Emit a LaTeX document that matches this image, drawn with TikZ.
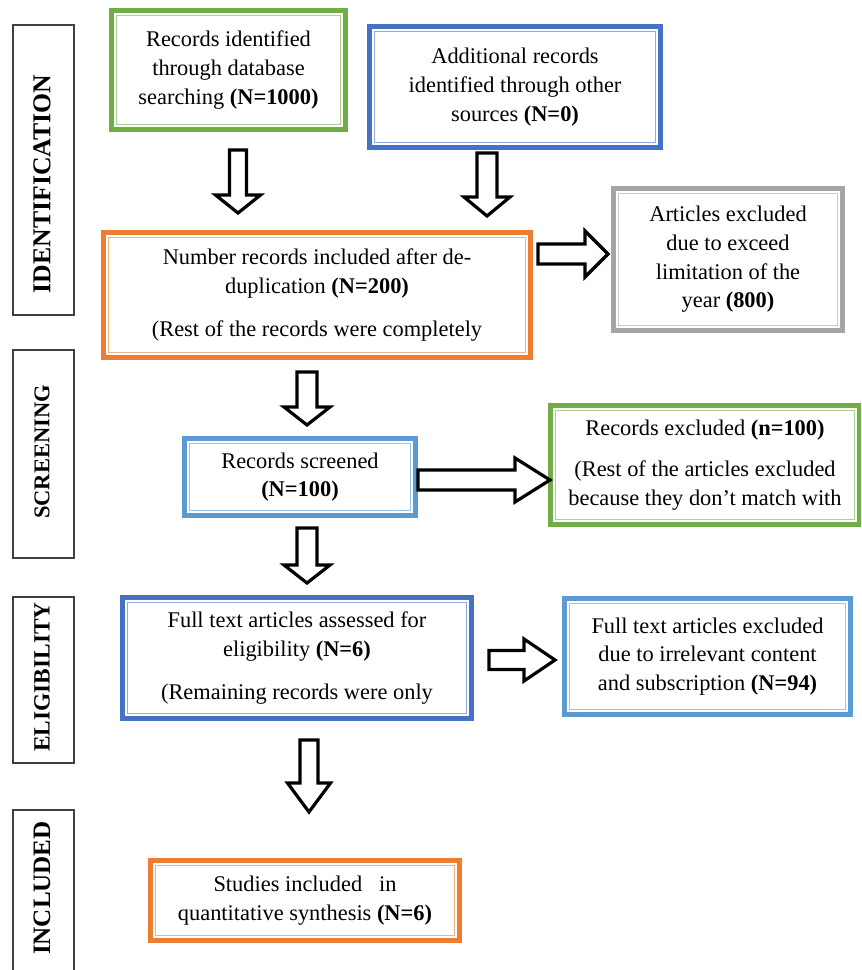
\documentclass[tikz,border=0pt]{standalone}
\usepackage{fontspec}
\setmainfont{Liberation Serif}
\usetikzlibrary{fit}
\definecolor{cgreen}{HTML}{70AD47}
\definecolor{cgreenL}{HTML}{A9D18E}
\definecolor{cblue}{HTML}{4472C4}
\definecolor{cblueL}{HTML}{8FAADC}
\definecolor{corange}{HTML}{ED7D31}
\definecolor{corangeL}{HTML}{F4B183}
\definecolor{cgray}{HTML}{A5A5A5}
\definecolor{cgrayL}{HTML}{C9C9C9}
\definecolor{clblue}{HTML}{5B9BD5}
\definecolor{clblueL}{HTML}{9DC3E6}
\definecolor{cside}{HTML}{404040}
\newcommand\innerframe[2]{\draw[#2, line width=1.1pt] ([shift={(5.25,5.25)}]#1.north west) rectangle ([shift={(-5.25,-5.25)}]#1.south east);}
\newcommand\boxat[7]{\node[box=#2, minimum width={(#5-#3-5)*0.75pt}, minimum height={(#6-#4-5)*0.75pt}] (#1) at ({(#3+#5)/2},{(#4+#6)/2}) {#7};}
\newcommand\blkdown[6]{\draw[blk] ({#1-#5},#2) -- ({#1+#5},#2) -- ({#1+#5},#3) -- ({#1+#6},#3) -- (#1,#4) -- ({#1-#6},#3) -- ({#1-#5},#3) -- cycle;}
\newcommand\blkright[6]{\draw[blk] (#2,{#1-#5}) -- (#2,{#1+#5}) -- (#3,{#1+#5}) -- (#3,{#1+#6}) -- (#4,#1) -- (#3,{#1-#6}) -- (#3,{#1-#5}) -- cycle;}
\begin{document}
\begin{tikzpicture}[x=0.75pt,y=-0.75pt,
  box/.style={draw=#1, line width=3.75pt, inner sep=0pt, outer sep=0pt, align=center,
    font=\fontsize{16.8}{21.5}\selectfont},
  sidebox/.style={draw=cside, line width=1.1pt, inner sep=0pt, outer sep=0pt},
  sidetext/.style={rotate=90, font=\fontsize{#1}{20}\selectfont\bfseries, inner sep=0pt},
  blk/.style={draw=black, fill=white, line width=2.4pt, line join=miter}]
\useasboundingbox (0,0) rectangle (861,970);
\clip (0,0) rectangle (861,970);
\fill[white] (0,0) rectangle (861,970);

% side labels
\node[sidebox, fit={(13,25) (74,315)}] (sid) {};
\node[sidetext=19.3] (sidt) at (42,184) {IDENTIFICATION};
\node[sidebox, fit={(13,350) (74,558)}] (sscr) {};
\node[sidetext=16.9] (sscrt) at (42,452) {SCREENING};
\node[sidebox, fit={(13,597) (74,763)}] (sel) {};
\node[sidetext=17.5] (selt) at (42,677) {ELIGIBILITY};
\node[sidebox, fit={(13,810) (74,1000)}] (sinc) {};
\node[sidetext=18.8] (sinct) at (42,888) {INCLUDED};

% boxes
\boxat{b1}{cgreen}{109}{8}{348}{132}{Records identified\\ through database\\ searching \textbf{(N=1000)}}
\innerframe{b1}{cgreenL}
\boxat{b2}{cblue}{367}{24}{663}{150}{Additional records\\ identified through other\\ sources \textbf{(N=0)}}
\innerframe{b2}{cblueL}
\boxat{b3}{corange}{101}{230}{533}{360}{Number records included after de-\\ duplication \textbf{(N=200)}\\[10.5pt] (Rest of the records were completely}
\innerframe{b3}{corangeL}
\boxat{b4}{cgray}{611}{186}{845}{333}{Articles excluded\\ due to exceed\\ limitation of the\\ year \textbf{(800)}}
\innerframe{b4}{cgrayL}
\boxat{b5}{clblue}{182}{436}{418}{518}{Records screened\\ \textbf{(N=100)}}
\innerframe{b5}{clblueL}
\boxat{b6}{cgreen}{548}{403}{862}{527}{Records excluded \textbf{(n=100)}\\[9.5pt] (Rest of the articles excluded\\ because they don’t match with}
\innerframe{b6}{cgreenL}
\boxat{b7}{cblue}{120}{595}{474}{721}{Full text articles assessed for\\ eligibility \textbf{(N=6)}\\[10.5pt] (Remaining records were only}
\innerframe{b7}{cblueL}
\boxat{b8}{clblue}{562}{596}{853}{717}{Full text articles excluded\\ due to irrelevant content\\ and subscription \textbf{(N=94)}}
\innerframe{b8}{clblueL}
\boxat{b9}{corange}{148}{858}{462}{943}{Studies included \ \ in\\ quantitative synthesis \textbf{(N=6)}}
\innerframe{b9}{corangeL}

% block arrows
\blkdown{238}{150}{195}{213}{8.5}{22.5}
\blkdown{487}{153}{197}{216}{10}{23}
\blkright{254}{538}{585}{608}{10}{23}
\blkdown{307}{372}{407}{425}{10}{23}
\blkright{480}{418}{515}{550}{10}{22}
\blkdown{307}{528}{565}{583}{10}{23}
\blkright{660}{489}{524}{555}{9.5}{21}
\blkdown{309}{740}{783}{812}{9}{21.5}
\end{tikzpicture}
\end{document}
